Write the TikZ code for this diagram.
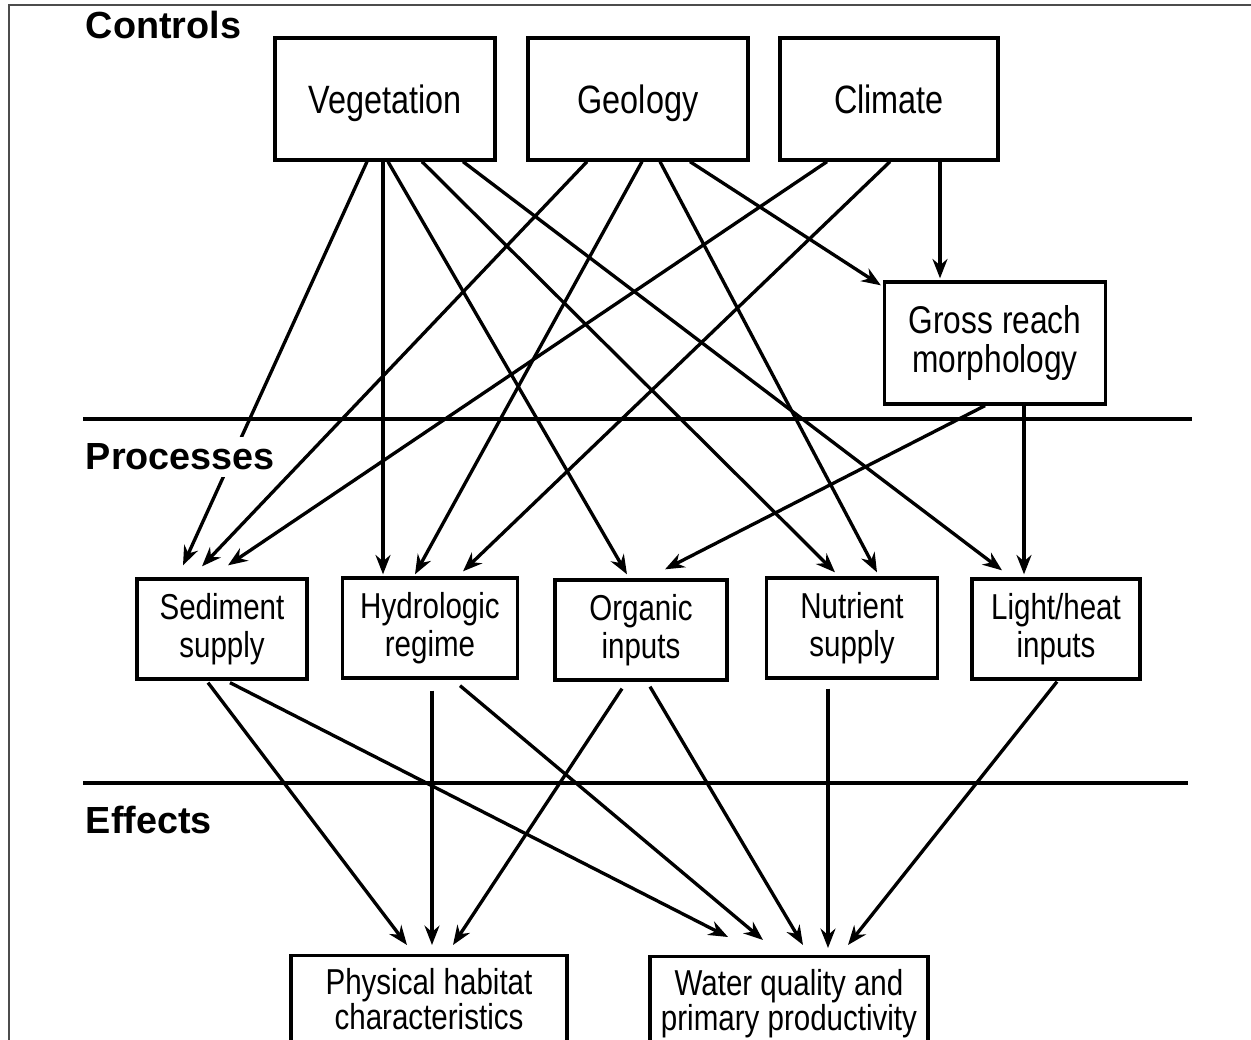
\documentclass[tikz,border=0pt]{standalone}
\usepackage{fontspec}
\setmainfont{Liberation Sans}
\newfontfamily\narrowfont{Liberation Sans}[FakeStretch=0.82]
\usetikzlibrary{calc,arrows.meta}

\begin{document}
\begin{tikzpicture}[x=0.02cm, y=-0.02cm,
    box/.style={draw, line width=1.9pt, align=center, inner sep=0pt,
        font=\narrowfont\fontsize{20.5}{21.5}\selectfont},
    topbox/.style={box, minimum width=4.4cm, minimum height=2.44cm, text depth=0pt,
        font=\narrowfont\fontsize{22.5}{24}\selectfont},
    procbox/.style={box, minimum height=2cm},
    effbox/.style={box, anchor=north, inner ysep=7pt,
        font=\narrowfont\fontsize{20.5}{20.4}\selectfont},
    head/.style={anchor=west, inner xsep=2pt, font=\fontsize{21.5}{24}\selectfont\bfseries},
    arr/.style={-{Stealth[length=11pt,width=8.5pt]}, line width=1.9pt},
    sep/.style={line width=1.8pt}]
    \useasboundingbox (0,0) rectangle (1251,1040);
    \clip (0,0) rectangle (1251,1040);

    % Frame of the figure
    \draw[gray!60!black, line width=1.1pt] (9,1040) -- (9,5) -- (1251,5);

    % Controls
    \node[topbox] (veg) at (385,99) {Vegetation};
    \node[topbox] (geo) at (638,99) {Geology};
    \node[topbox, minimum width=4.36cm] (clim) at (889,99) {Climate};
    \node[box, minimum width=4.42cm, minimum height=2.44cm, font=\narrowfont\fontsize{22}{22.7}\selectfont]
        (gross) at (995,343) {Gross reach\\morphology};

    % Processes
    \node[procbox, minimum width=3.40cm] (sed) at (222,629) {Sediment\\supply};
    \node[procbox, minimum width=3.50cm] (hyd) at (430,628) {Hydrologic\\regime};
    \node[procbox, minimum width=3.44cm] (org) at (641,630) {Organic\\inputs};
    \node[procbox, minimum width=3.42cm] (nut) at (852,628) {Nutrient\\supply};
    \node[procbox, minimum width=3.36cm] (light) at (1056,629) {Light/heat\\inputs};

    % Effects
    \node[effbox, minimum width=5.52cm] (phys) at (429,954) {Physical habitat\\characteristics};
    \node[effbox, minimum width=5.56cm] (water) at (789,955) {Water quality and\\primary productivity};

    % Separating lines
    \draw[sep] (83,419) -- (1192,419);
    \draw[sep] (83,783) -- (1188,783);

    % Vegetation arrows
    \draw[arr] ($(veg.south)+(-18,0)$) -- ($(sed.north)+(-39,-12)$);
    \draw[arr] ($(veg.south)+(-2,0)$) -- ($(hyd.north)+(-47,-2)$);
    \draw[arr] ($(veg.south)+(3,0)$) -- ($(org.north)+(-14,-4)$);
    \draw[arr] ($(veg.south)+(37,0)$) -- ($(nut.north)+(-17,-4)$);
    \draw[arr] ($(veg.south)+(78,0)$) -- ($(light.north)+(-54,-7)$);

    % Geology arrows
    \draw[arr] ($(geo.south)+(-51,0)$) -- ($(sed.north)+(-20,-11)$);
    \draw[arr] ($(geo.south)+(4,0)$) -- ($(hyd.north)+(-15,-2)$);
    \draw[arr] ($(geo.south)+(22,0)$) -- ($(nut.north)+(25,-4)$);
    \draw[arr] ($(geo.south)+(52,0)$) -- ($(gross.north west)+(-2,5)$);

    % Climate arrows
    \draw[arr] ($(clim.south)+(-62,0)$) -- ($(sed.north)+(6,-12)$);
    \draw[arr] ($(clim.south)+(1,0)$) -- ($(hyd.north)+(33,-5)$);
    \draw[arr] ($(clim.south)+(51,0)$) -- ($(gross.north)+(-55,-2)$);

    % Gross reach arrows
    \draw[arr] ($(gross.south)+(-10,0)$) -- ($(org.north)+(24,-9)$);
    \draw[arr] ($(gross.south)+(29,0)$) -- ($(light.north)+(-32,-3)$);

    % Process to effect arrows
    \draw[arr] ($(sed.south)+(-14,2)$) -- ($(phys.north)+(-22,-9)$);
    \draw[arr] ($(sed.south)+(8,2)$) -- ($(water.north)+(-61,-18)$);
    \draw[arr] ($(hyd.south)+(2,11)$) -- ($(phys.north)+(3,-9)$);
    \draw[arr] ($(hyd.south)+(30,6)$) -- ($(water.north)+(-26,-15)$);
    \draw[arr] ($(org.south)+(-19,7)$) -- ($(phys.north)+(24,-9)$);
    \draw[arr] ($(org.south)+(9,5)$) -- ($(water.north)+(14,-10)$);
    \draw[arr] ($(nut.south)+(-24,9)$) -- ($(water.north)+(39,-7)$);
    \draw[arr] ($(light.south)+(1,1)$) -- ($(water.north)+(59,-10)$);

    % Level headings
    \node[head] (ctrl) at (82,25) {Controls};
    \node[head, fill=white, inner ysep=4pt] (proc) at (82,457) {Processes};
    \node[head] (eff) at (82,820) {Effects};
\end{tikzpicture}
\end{document}
